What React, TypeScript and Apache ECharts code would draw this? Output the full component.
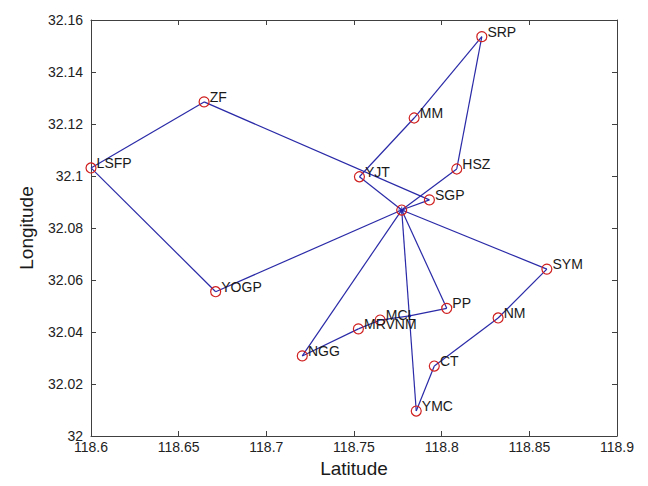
import React, { useEffect, useRef } from "react";
import * as echarts from "echarts";

// Node names and coordinates (Latitude axis = x, Longitude axis = y)
const nodeNames = ["LSFP", "ZF", "SRP", "MM", "HSZ", "YJT", "SGP", "HUB", "PP", "MCL", "MRVNM", "J", "NGG", "YMC", "CT", "YOGP", "SYM", "NM"];
const nodeX = [118.6, 118.6645, 118.8229, 118.7843, 118.8086, 118.7531, 118.793, 118.7772, 118.8029, 118.7649, 118.7525, 118.7817, 118.7205, 118.7855, 118.7958, 118.6711, 118.86, 118.8322];
const nodeY = [32.1031, 32.1285, 32.1536, 32.1223, 32.1027, 32.0997, 32.0908, 32.0869, 32.0491, 32.0446, 32.0412, 32.0462, 32.0308, 32.0096, 32.0269, 32.0555, 32.0642, 32.0454];
const labelled = ["LSFP", "ZF", "SRP", "MM", "HSZ", "YJT", "SGP", "PP", "MCL", "MRVNM", "NGG", "YMC", "CT", "YOGP", "SYM", "NM"];

const edgeFrom = ["LSFP", "ZF", "YJT", "MM", "SRP", "HSZ", "HUB", "HUB", "LSFP", "HUB", "SYM", "NM", "CT", "HUB", "HUB", "HUB", "PP", "J", "MCL", "MRVNM", "HUB"];
const edgeTo = ["ZF", "SGP", "MM", "SRP", "HSZ", "HUB", "SGP", "YOGP", "YOGP", "SYM", "NM", "CT", "YMC", "YMC", "PP", "NGG", "J", "MCL", "MRVNM", "NGG", "YJT"];

const xTicks = { min: 118.6, max: 118.9, interval: 0.05 };
const yTicks = { min: 32, max: 32.16, interval: 0.02 };

const fmt = (v: number) => String(parseFloat(v.toFixed(3)));

export default function App() {
  const ref = useRef<HTMLDivElement>(null);
  useEffect(() => {
    if (!ref.current) return;
    const chart = echarts.init(ref.current, null, { renderer: "svg" });
    const font = "Liberation Sans, Arial, sans-serif";
    const lineColor = "#404040";
    const axisCommon = {
      axisLine: { show: true, lineStyle: { color: lineColor, width: 1 } },
      axisTick: { show: true, inside: true, length: 5, lineStyle: { color: lineColor } },
      splitLine: { show: false },
    };
    const nodes = nodeNames.map((n, i) => {
      const isJ = n === "J";
      return {
        name: n,
        value: [nodeX[i], nodeY[i]],
        symbol: "circle",
        symbolSize: isJ ? 3 : 10,
        itemStyle: isJ
          ? { color: "#2020b0", borderWidth: 0 }
          : { color: "rgba(0,0,0,0)", borderColor: "#d02020", borderWidth: 1.2 },
        label: {
          show: labelled.indexOf(n) >= 0,
          position: "right",
          distance: 0,
          offset: [0, -5],
          formatter: n,
          fontFamily: font,
          fontSize: 14,
          color: "#1a1a1a",
        },
      };
    });
    const links = edgeFrom.map((s, i) => ({ source: s, target: edgeTo[i] }));
    const hubIdx = nodeNames.indexOf("HUB");
    chart.setOption({
      animation: false,
      backgroundColor: "#ffffff",
      grid: { left: 91, right: 31, top: 20, bottom: 50, containLabel: false },
      xAxis: [
        {
          type: "value",
          min: xTicks.min,
          max: xTicks.max,
          interval: xTicks.interval,
          name: "Latitude",
          nameLocation: "middle",
          nameGap: 23,
          nameTextStyle: { fontFamily: font, fontSize: 19, color: "#1a1a1a" },
          axisLabel: { margin: 4, fontFamily: font, fontSize: 14, color: "#222", formatter: fmt },
          ...axisCommon,
        },
        {
          type: "value",
          position: "top",
          min: xTicks.min,
          max: xTicks.max,
          interval: xTicks.interval,
          axisLabel: { show: false },
          ...axisCommon,
        },
      ],
      yAxis: [
        {
          type: "value",
          min: yTicks.min,
          max: yTicks.max,
          interval: yTicks.interval,
          name: "Longitude",
          nameLocation: "middle",
          nameGap: 55,
          nameTextStyle: { fontFamily: font, fontSize: 19, color: "#1a1a1a" },
          axisLabel: { margin: 8, fontFamily: font, fontSize: 14, color: "#222", formatter: fmt },
          ...axisCommon,
        },
        {
          type: "value",
          position: "right",
          min: yTicks.min,
          max: yTicks.max,
          interval: yTicks.interval,
          axisLabel: { show: false },
          ...axisCommon,
        },
      ],
      series: [
        {
          type: "graph",
          coordinateSystem: "cartesian2d",
          xAxisIndex: 0,
          yAxisIndex: 0,
          data: nodes,
          links,
          lineStyle: { color: "#2a2aa8", width: 1.2, opacity: 1, curveness: 0 },
          emphasis: { disabled: true },
          z: 3,
        },
        {
          type: "scatter",
          xAxisIndex: 0,
          yAxisIndex: 0,
          data: [[nodeX[hubIdx], nodeY[hubIdx]]],
          symbol: "path://M0,-5L0,5M-5,0L5,0M-3.5,-3.5L3.5,3.5M-3.5,3.5L3.5,-3.5",
          symbolSize: 7,
          itemStyle: { color: "none", borderColor: "#2020b0", borderWidth: 1 },
          z: 4,
        },
      ],
    });
    return () => chart.dispose();
  }, []);
  return (
    <div
      ref={ref}
      style={{ position: "fixed", left: 0, top: 0, width: 648, height: 486, background: "#fff" }}
    />
  );
}
